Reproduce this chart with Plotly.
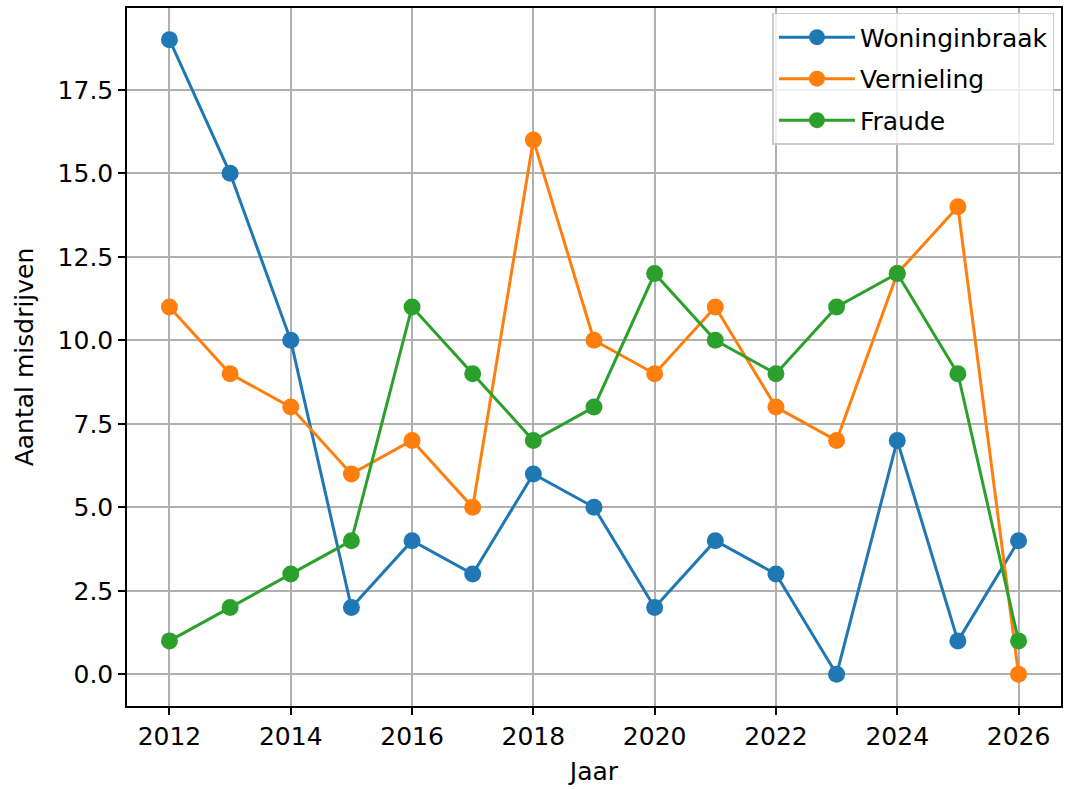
import plotly.graph_objects as go

years = list(range(2012, 2027))
woninginbraak = [19, 15, 10, 2, 4, 3, 6, 5, 2, 4, 3, 0, 7, 1, 4]
vernieling = [11, 9, 8, 6, 7, 5, 16, 10, 9, 11, 8, 7, 12, 14, 0]
fraude = [1, 2, 3, 4, 11, 9, 7, 8, 12, 10, 9, 11, 12, 9, 1]

series = [
    ("Woninginbraak", woninginbraak, "#1f77b4"),
    ("Vernieling", vernieling, "#ff7f0e"),
    ("Fraude", fraude, "#2ca02c"),
]

FONT = "DejaVu Sans"
FS = 25

fig = go.Figure()
for i, (name, vals, col) in enumerate(series):
    fig.add_trace(go.Scatter(
        x=years, y=vals, name=name, mode="lines+markers",
        legendgroup="g%d" % i,
        line=dict(color=col, width=3),
        marker=dict(color=col, size=17),
    ))

axis_common = dict(
    showline=True, linecolor="black", linewidth=1.5, mirror=True,
    ticks="outside", ticklen=7, tickwidth=1.5, tickcolor="black",
    showgrid=True, gridcolor="#b0b0b0", gridwidth=1.5,
    zeroline=False,
    tickfont=dict(family=FONT, size=FS, color="black"),
)

fig.update_layout(
    width=1065, height=789,
    margin=dict(l=127, r=2, t=8, b=83),
    paper_bgcolor="white", plot_bgcolor="white",
    font=dict(family=FONT, size=FS, color="black"),
    xaxis=dict(range=[2011.3, 2026.7], tickmode="array",
               tickvals=list(range(2012, 2027, 2)),
               title=dict(text="Jaar", font=dict(family=FONT, size=FS), standoff=13),
               **axis_common),
    yaxis=dict(range=[-0.95, 19.95], tickmode="array",
               tickvals=[0, 2.5, 5, 7.5, 10, 12.5, 15, 17.5],
               ticktext=["0.0", "2.5", "5.0", "7.5", "10.0", "12.5", "15.0", "17.5"],
               title=dict(text="Aantal misdrijven", font=dict(family=FONT, size=FS), standoff=17),
               **axis_common),
    legend=dict(x=0.993, y=0.993, xanchor="right", yanchor="top",
                bgcolor="rgba(255,255,255,0.8)", bordercolor="#cccccc", borderwidth=1.5,
                font=dict(family=FONT, size=FS), itemwidth=76, tracegroupgap=6),
    showlegend=True,
)

fig.write_html("out.html", config={"displayModeBar": False},
               post_script="document.body.style.margin='0';document.body.style.overflow='hidden';")
